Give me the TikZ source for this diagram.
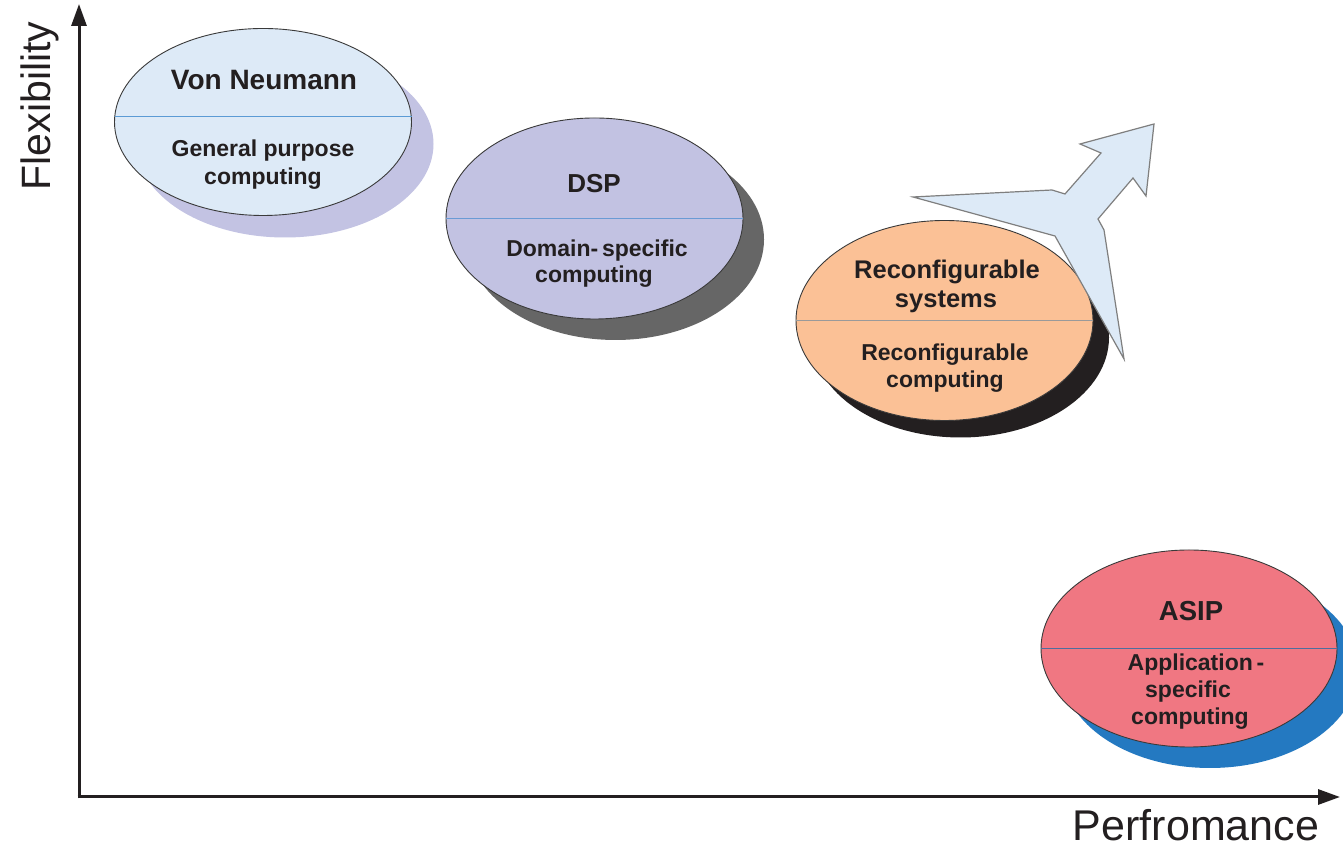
\documentclass[tikz,border=0pt]{standalone}
\usepackage{fontspec}
\setmainfont{Liberation Sans}
\usetikzlibrary{arrows.meta,shapes.geometric,calc}
\definecolor{txt}{HTML}{231F20}
\definecolor{outl}{HTML}{3A3A3A}
\definecolor{vnfill}{HTML}{DDEAF7}
\definecolor{vnshadow}{HTML}{C3C3E3}
\definecolor{vndiv}{HTML}{5B9BD5}
\definecolor{dspfill}{HTML}{C2C2E2}
\definecolor{dspshadow}{HTML}{666666}
\definecolor{dspdiv}{HTML}{6A9BD5}
\definecolor{rcfill}{HTML}{FBC196}
\definecolor{rcshadow}{HTML}{231F20}
\definecolor{rcdiv}{HTML}{9A9A9A}
\definecolor{asfill}{HTML}{F07782}
\definecolor{asshadow}{HTML}{2479C1}
\definecolor{asdiv}{HTML}{4D6E9E}
\definecolor{arrfill}{HTML}{DDEAF7}
\definecolor{arrline}{HTML}{7F7F7F}
\begin{document}
\begin{tikzpicture}[x=1pt,y=1pt,
  ell/.style={ellipse, inner sep=0pt, outer sep=0pt, minimum width=297pt, minimum height=200pt, draw=outl, line width=0.9pt},
  shad/.style={ellipse, inner sep=0pt, outer sep=0pt, minimum width=297pt, minimum height=200pt, draw=none},
  ttl/.style={anchor=base, text=txt, inner sep=0pt, font=\bfseries\fontsize{28}{34}\selectfont},
  sub/.style={anchor=base, text=txt, inner sep=0pt, font=\bfseries\fontsize{23}{28}\selectfont},
  div/.style={line width=1pt},
  axis/.style={line width=3pt, txt, -{Triangle[length=22pt,width=15pt]}},
  axlabel/.style={text=txt, inner sep=0pt, font=\fontsize{43}{48}\selectfont}
]
\useasboundingbox (0,0) rectangle (1343,850);
\fill[white] (0,0) rectangle (1343,850);

% centres
\coordinate (vnc) at (263,728);
\coordinate (dspc) at (594.5,631.5);
\coordinate (rcc) at (944.5,529.5);
\coordinate (asc) at (1189,201.5);

% shadows
\node[shad, minimum height=187pt, fill=vnshadow] (vnsh) at ($(vnc)+(22,-22)$) {};
\node[shad, minimum height=201pt, fill=dspshadow] (dspsh) at ($(dspc)+(21,-21)$) {};
\node[shad, fill=rcshadow] (rcsh) at ($(rcc)+(16,-17)$) {};
\node[shad, minimum width=296pt, minimum height=197pt, fill=asshadow] (assh) at ($(asc)+(21,-21)$) {};

% ellipses
\node[ell, minimum height=187pt, fill=vnfill] (vn) at (vnc) {};
\draw[div, vndiv] ([yshift=5pt]vn.west) -- ([yshift=5pt]vn.east);
\node[ell, minimum height=201pt, fill=dspfill] (dsp) at (dspc) {};
\draw[div, dspdiv] (dsp.west) -- (dsp.east);
\node[ell, fill=rcfill] (rc) at (rcc) {};
\draw[div, rcdiv] (rc.west) -- (rc.east);
\node[ell, minimum width=296pt, minimum height=197pt, fill=asfill] (as) at (asc) {};
\draw[div, asdiv] (as.west) -- (as.east);

% texts
\node[ttl] (vnt) at (264,760) {Von Neumann};
\node[sub] (vns1) at (263,693) {General purpose};
\node[sub] (vns2) at (263,665) {computing};

\node[ttl, font=\bfseries\fontsize{26}{30}\selectfont] (dspt) at (594,657) {DSP};
\node[sub] (dsps1) at (597,593) {Domain-\,specific};
\node[sub] (dsps2) at (594,567) {computing};

\node[ttl, font=\bfseries\fontsize{25.5}{32}\selectfont] (rct1) at (947,571) {Reconfigurable};
\node[ttl, font=\bfseries\fontsize{25.5}{32}\selectfont] (rct2) at (946,542) {systems};
\node[sub] (rcs1) at (945,489) {Reconfigurable};
\node[sub] (rcs2) at (945,462) {computing};

\node[ttl, font=\bfseries\fontsize{27.5}{32}\selectfont] (ast) at (1191,229) {ASIP};
\node[sub] (ass1) at (1196,179) {Application\,-};
\node[sub] (ass2) at (1188,152) {specific};
\node[sub] (ass3) at (1190,125) {computing};

% the three-pronged arrow
\draw[fill=arrfill, draw=arrline, line width=1.2pt, line join=miter]
  (913,653) -- (1052,660) -- (1065,656) -- (1101,697) -- (1080,706) -- (1154,726)
  -- (1146,654) -- (1133,672) -- (1098,631) -- (1104,620) -- (1124,491)
  -- (1055,614) -- cycle;

% axes
\coordinate (O) at (79,53);
\coordinate (ytop) at (79,846);
\coordinate (xend) at (1340,53);
\draw[axis] ([yshift=-1.5pt]O) -- (ytop);
\draw[axis] ([xshift=-1.5pt]O) -- (xend);

\node[axlabel, rotate=90, font=\fontsize{41}{46}\selectfont] (ylab) at (40,744) {Flexibility};
\node[axlabel, anchor=base] (xlab) at (1196,9) {Perfromance};
\end{tikzpicture}
\end{document}
